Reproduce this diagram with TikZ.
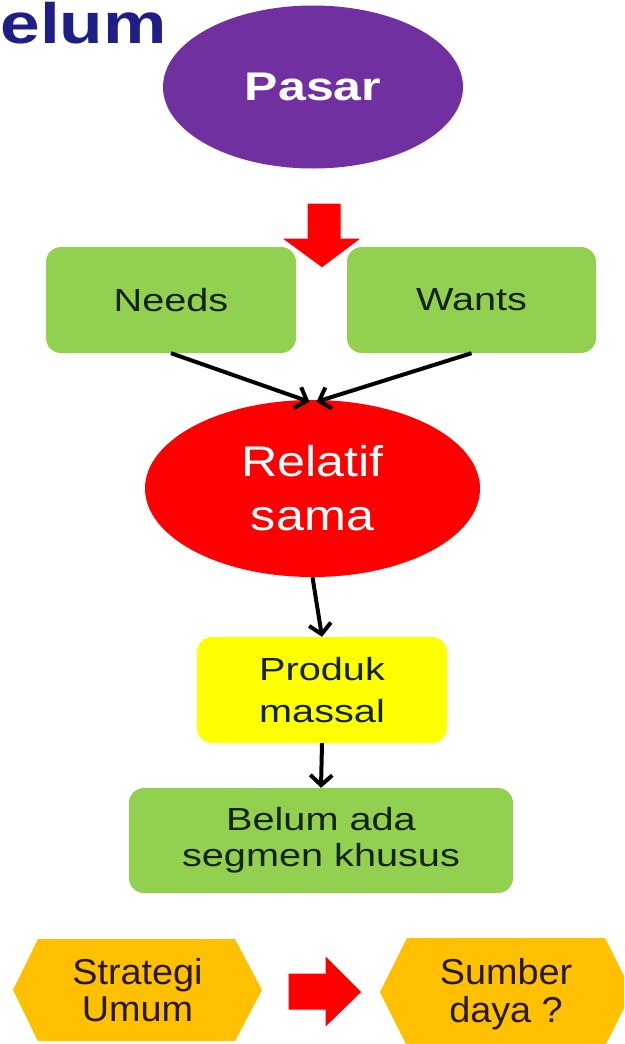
\documentclass[tikz,border=0pt]{standalone}
\usepackage{fontspec}
\setmainfont{Liberation Sans}
\newfontfamily\titlefont[FakeStretch=1.25]{Liberation Sans}
\newfontfamily\pasarfont[FakeStretch=1.25]{Liberation Sans}
\newfontfamily\relfont[FakeStretch=1.17]{Liberation Sans}
\newfontfamily\boxfont[FakeStretch=1.24]{Liberation Sans}
\newfontfamily\hexfont[FakeStretch=1.05]{Liberation Sans}
\usetikzlibrary{shapes.geometric,arrows.meta}
\definecolor{purp}{HTML}{7030A0}
\definecolor{grn}{HTML}{92D050}
\definecolor{rd}{HTML}{FF0000}
\definecolor{ylw}{HTML}{FFFF00}
\definecolor{orng}{HTML}{FFC000}
\definecolor{navy}{RGB}{30,30,135}
\definecolor{boxtext}{RGB}{20,35,15}
\definecolor{hextext}{RGB}{40,25,10}
\tikzset{
  greenbox/.style={fill=grn, rounded corners=15pt, inner sep=0pt, align=center,
    text=boxtext, font=\boxfont\fontsize{32}{36}\selectfont},
  yellowbox/.style={greenbox, fill=ylw, font=\boxfont\fontsize{32}{42}\selectfont},
  blackarrow/.style={draw=black, line width=4pt,
    -{Straight Barb[length=10pt,width=22pt]}},
  bigarrow/.style={fill=rd, draw=white, line width=1pt},
  hexshape/.style={fill=orng},
  hexlabel/.style={inner sep=0pt, align=center, text=hextext,
    font=\hexfont\fontsize{36}{37.5}\selectfont}
}
\begin{document}
\begin{tikzpicture}[x=1pt,y=-1pt]
\useasboundingbox (0,0) rectangle (624,1044);
\clip (0,0) rectangle (624,1044);
\fill[white] (0,0) rectangle (624,1044);

% title fragment
\node[anchor=base east, inner sep=0pt, text=navy,
  font=\titlefont\bfseries\fontsize{57}{60}\selectfont] (title) at (167,43) {elum};

% Pasar
\node[ellipse, fill=purp, minimum width=300pt, minimum height=163pt, inner sep=0pt,
  text=white, font=\pasarfont\bfseries\fontsize{40}{42}\selectfont] (pasar) at (313,87) {Pasar};

% Needs / Wants
\node[greenbox, minimum width=250pt, minimum height=106pt] (needs) at (171,300) {Needs};
\node[greenbox, minimum width=249pt, minimum height=106pt] (wants) at (471.5,300) {Wants};

% big red down arrow
\fill[bigarrow] (307,203) -- (341,203) -- (341,238) -- (362,238) -- (322,268)
  -- (281,238) -- (307,238) -- cycle;

% Relatif sama
\node[ellipse, fill=rd, minimum width=335pt, minimum height=177pt, inner sep=0pt,
  align=center, text=white, font=\relfont\fontsize{43}{54}\selectfont] (rel) at (312.5,488.5) {Relatif\\sama};

% Produk massal
\node[yellowbox, minimum width=250pt, minimum height=106pt] (prod) at (322,690) {Produk\\massal};

% Belum ada segmen khusus
\node[greenbox, minimum width=384pt, minimum height=105pt] (belum) at (321,840.5) {Belum ada\\segmen khusus};

% connectors
\draw[blackarrow] (needs.south) -- ([xshift=-3pt,yshift=-2pt]rel.north);
\draw[blackarrow] (wants.south) -- ([xshift=4pt,yshift=-2pt]rel.north);
\draw[blackarrow] (rel.south) -- (prod.north);
\draw[blackarrow] (prod.south) -- (belum.north);

% hexagons
\fill[hexshape] (13,990) -- (38,939) -- (235,939) -- (262,990) -- (235,1041) -- (38,1041) -- cycle;
\node[hexlabel] (strat) at (137.5,990) {Strategi\\Umum};
\fill[hexshape] (380,992) -- (407,938) -- (605,938) -- (632,992) -- (605,1046) -- (407,1046) -- cycle;
\node[hexlabel] (sumber) at (506,994) {Sumber\\daya ?};

% red right arrow
\fill[bigarrow] (288,973) -- (325,973) -- (325,955) -- (362,992) -- (325,1028)
  -- (325,1010) -- (288,1010) -- cycle;
\end{tikzpicture}
\end{document}
